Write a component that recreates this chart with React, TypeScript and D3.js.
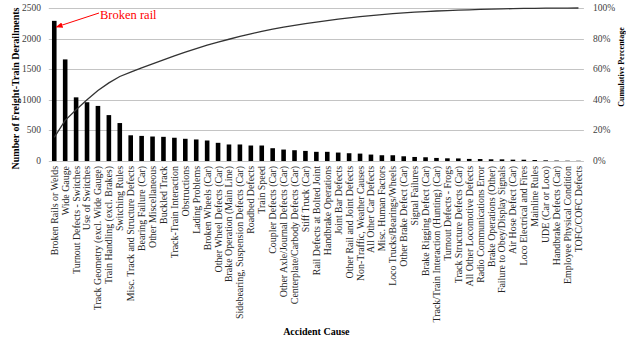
import React from "react";
import * as d3 from "d3";

// accident causes, in Pareto order
const causes = [
  "Broken Rails or Welds",
  "Wide Gauge",
  "Turnout Defects - Switches",
  "Use of Switches",
  "Track Geometry (excl. Wide Gauge)",
  "Train Handling (excl. Brakes)",
  "Switching Rules",
  "Misc. Track and Structure Defects",
  "Bearing Failure (Car)",
  "Other Miscellaneous",
  "Buckled Track",
  "Track-Train Interaction",
  "Obstructions",
  "Lading Problems",
  "Broken Wheels (Car)",
  "Other Wheel Defects (Car)",
  "Brake Operation (Main Line)",
  "Sidebearing, Suspension Defects (Car)",
  "Roadbed Defects",
  "Train Speed",
  "Coupler Defects (Car)",
  "Other Axle/Journal Defects (Car)",
  "Centerplate/Carbody Defects (Car)",
  "Stiff Truck (Car)",
  "Rail Defects at Bolted Joint",
  "Handbrake Operations",
  "Joint Bar Defects",
  "Other Rail and Joint Defects",
  "Non-Traffic, Weather Causes",
  "All Other Car Defects",
  "Misc. Human Factors",
  "Loco Trucks/Bearings/Wheels",
  "Other Brake Defect (Car)",
  "Signal Failures",
  "Brake Rigging Defect (Car)",
  "Track/Train Interaction (Hunting) (Car)",
  "Turnout Defects - Frogs",
  "Track Structure Defects (Car)",
  "All Other Locomotive Defects",
  "Radio Communications Error",
  "Brake Operations (Other)",
  "Failure to Obey/Display Signals",
  "Air Hose Defect (Car)",
  "Loco Electrical and Fires",
  "Mainline Rules",
  "UDE (Car or Loco)",
  "Handbrake Defects (Car)",
  "Employee Physical Condition",
  "TOFC/COFC Defects",
];

const derailments = [
  2290, 1660, 1040, 960, 900, 750, 620, 420, 410, 400,
  395, 380, 363, 352, 335, 297, 270, 270, 253, 253,
  209, 187, 176, 165, 150, 150, 138, 127, 121, 105,
  94, 94, 77, 66, 61, 50, 44, 42, 34, 32,
  28, 27, 22, 21, 16, 11, 7, 5, 4,
];

const countTicks = [0, 500, 1000, 1500, 2000, 2500];
const pctTicks = [0, 0.2, 0.4, 0.6, 0.8, 1];

const W = 626;
const H = 341;
const left = 48.8;
const right = 583.9;
const top = 8;
const bottom = 161;
const serif = "'Liberation Serif', 'Times New Roman', serif";

export default function App() {
  const x = d3
    .scaleBand<string>()
    .domain(causes)
    .range([left, right])
    .paddingInner(0.58)
    .paddingOuter(0.29);
  const y = d3.scaleLinear().domain([0, 2500]).range([bottom, top]);
  const yPct = d3.scaleLinear().domain([0, 1]).range([bottom, top]);

  const total = d3.sum(derailments);
  const cum = d3.cumsum(derailments);
  const pts: [number, number][] = causes.map((c, i) => [
    x(c)! + x.bandwidth() / 2,
    yPct(cum[i] / total),
  ]);
  const line = d3.line()(pts) || "";

  const firstX = x(causes[0])! + x.bandwidth() / 2;

  return (
    <svg
      width={W}
      height={H}
      style={{ position: "absolute", left: 0, top: 0, background: "#fff" }}
      fontFamily={serif}
    >
      <defs>
        <marker
          id="arr"
          viewBox="0 0 10 10"
          refX="9"
          refY="5"
          markerWidth="7"
          markerHeight="7"
          orient="auto"
        >
          <path d="M0,1 L10,5 L0,9 Z" fill="#ff0000" />
        </marker>
      </defs>

      {/* gridlines */}
      {countTicks.map((t) => (
        <line
          key={t}
          x1={left}
          x2={right}
          y1={Math.round(y(t)) + 0.5}
          y2={Math.round(y(t)) + 0.5}
          stroke="#c4c4c4"
          strokeWidth={1}
        />
      ))}

      {/* left ticks */}
      {countTicks.map((t) => (
        <text
          key={t}
          x={41}
          y={y(t)}
          dy="0.32em"
          textAnchor="end"
          fontSize={9.5}
          fill="#404040"
        >
          {t}
        </text>
      ))}

      {/* right ticks */}
      {pctTicks.map((t) => (
        <text
          key={t}
          x={593}
          y={yPct(t)}
          dy="0.32em"
          fontSize={9.5}
          fill="#404040"
        >
          {d3.format(".0%")(t)}
        </text>
      ))}

      {/* bars */}
      {causes.map((c, i) => (
        <rect
          key={c}
          x={x(c)}
          y={y(derailments[i])}
          width={x.bandwidth()}
          height={bottom - y(derailments[i])}
          fill="#000"
        />
      ))}

      {/* cumulative line */}
      <path d={line} fill="none" stroke="#333" strokeWidth={1.3} />

      {/* category labels */}
      {causes.map((c) => (
        <text
          key={c}
          transform={`translate(${x(c)! + x.bandwidth() / 2},166) rotate(-90)`}
          dy="0.35em"
          textAnchor="end"
          fontSize={9.9}
          fill="#262626"
        >
          {c}
        </text>
      ))}

      {/* axis titles */}
      <text
        transform={`translate(19,${(top + bottom) / 2 + 4}) rotate(-90)`}
        textAnchor="middle"
        fontSize={10}
        fontWeight="bold"
        fill="#000"
      >
        Number of Freight-Train Derailments
      </text>
      <text
        transform={`translate(624,67) rotate(-90)`}
        textAnchor="middle"
        fontSize={8}
        fontWeight="bold"
        fill="#000"
      >
        Cumulative Percentage
      </text>
      <text
        x={(left + right) / 2}
        y={335}
        textAnchor="middle"
        fontSize={10}
        fontWeight="bold"
        fill="#000"
      >
        Accident Cause
      </text>

      {/* annotation */}
      <line
        x1={99}
        y1={13}
        x2={firstX + 2}
        y2={27}
        stroke="#ff0000"
        strokeWidth={1}
        markerEnd="url(#arr)"
      />
      <text x={100} y={19} fontSize={12.5} fill="#ff0000">
        Broken rail
      </text>
    </svg>
  );
}
